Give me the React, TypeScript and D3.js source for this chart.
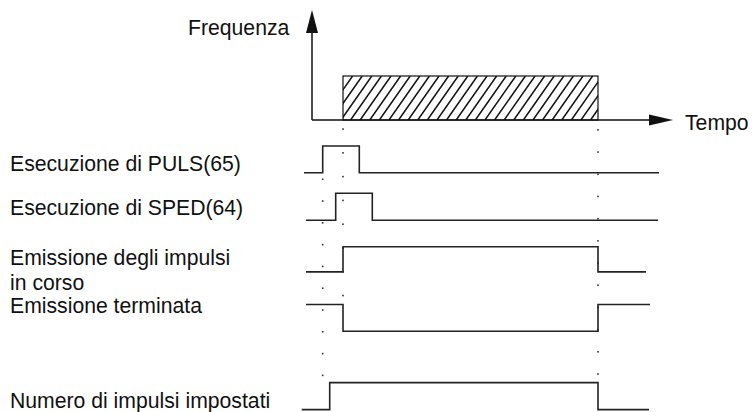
import React from "react";
import * as d3 from "d3";

// ---- data ----
const timeMarks = { origin: 0, emitStart: 3.1, emitEnd: 28.6, axisEnd: 36.1 };
const hatchHeight = 0.4; // relative frequency of the hatched block
const axisLabels = { y: "Frequenza", x: "Tempo" };

const rowLabels = [
  ["Esecuzione di PULS(65)"],
  ["Esecuzione di SPED(64)"],
  ["Emissione degli impulsi", "in corso"],
  ["Emissione terminata"],
  ["Numero di impulsi impostati"],
];
// lane position (low level) and amplitude, in lane units
const rowLane = [6.4, 8.16, 10.07, 12.27, 15.17];
const rowAmp = [0.99, 1.0, 0.93, 0.99, 1.0];
const rowLabelOffset = [0.06, 0.2, 0.26, 0.68, 0.05]; // label baseline above low level (lane units) (first line)

const pulsWave: [number, number][] = [[-0.8, 0], [1.07, 1], [4.73, 0], [34.7, 0]];
const spedWave: [number, number][] = [[-0.6, 0], [2.37, 1], [6.03, 0], [34.6, 0]];
const inCorsoWave: [number, number][] = [[-0.6, 0], [3.1, 1], [28.6, 0], [33.4, 0]];
const terminataWave: [number, number][] = [[-0.6, 1], [3.1, 0], [28.6, 1], [33.8, 1]];
const numeroWave: [number, number][] = [[-1.03, 0], [1.77, 1], [28.6, 0], [33.7, 0]];
const waves = [pulsWave, spedWave, inCorsoWave, terminataWave, numeroWave];

// dotted guide lines: time, start lane, end lane, spacing (lane units)
const guideT = [1.07, 3.1, 28.6];
const guideFrom = [6.64, 4.78, 4.81];
const guideTo = [13.9, 10.95, 13.86];
const guideStep = [0.807, 0.881, 0.822];

export default function App() {
  const W = 752, H = 412;
  const x = d3.scaleLinear().domain([0, 36]).range([312, 672]);
  const yFreq = d3.scaleLinear().domain([0, 1]).range([120, 10]);
  const yLane = d3.scaleLinear().domain([0, 15]).range([0, 405]);

  const font = "'Liberation Sans', Arial, Helvetica, sans-serif";
  const fs = 21.2;
  const ink = "#111";

  const rx0 = x(timeMarks.emitStart), rx1 = x(timeMarks.emitEnd);
  const ry0 = yFreq(hatchHeight), ry1 = yFreq(0);
  const hh = ry1 - ry0;
  const dx = hh / Math.tan((55 * Math.PI) / 180);
  const hatchX = d3.range(rx0 - dx, rx1 + 1, 9.6);

  return (
    <svg width={W} height={H} style={{ position: "absolute", left: 0, top: 0, background: "#fff" }}>
      <defs>
        <clipPath id="hclip">
          <rect x={rx0} y={ry0} width={rx1 - rx0} height={hh} />
        </clipPath>
      </defs>
      {/* hatched block */}
      <g clipPath="url(#hclip)">
        {hatchX.map((hx, i) => (
          <line key={i} x1={hx} y1={ry1} x2={hx + dx} y2={ry0} stroke={ink} strokeWidth={1.5} />
        ))}
      </g>
      <rect x={rx0} y={ry0} width={rx1 - rx0} height={hh} fill="none" stroke={ink} strokeWidth={1.2} />

      {/* axes */}
      <line x1={x(0)} y1={yFreq(0)} x2={x(0)} y2={yFreq(0.82)} stroke={ink} strokeWidth={1.5} />
      <path d={`M${x(0)},${yFreq(1)} L${x(0) - 6},${yFreq(0.79)} L${x(0) + 6},${yFreq(0.79)} Z`} fill={ink} />
      <line x1={x(0)} y1={yFreq(0)} x2={x(timeMarks.axisEnd) - 20} y2={yFreq(0)} stroke={ink} strokeWidth={1.5} />
      <path
        d={`M${x(timeMarks.axisEnd)},${yFreq(0)} L${x(timeMarks.axisEnd) - 24},${yFreq(0) - 5.5} L${x(timeMarks.axisEnd) - 24},${yFreq(0) + 5.5} Z`}
        fill={ink}
      />
      <text x={188} y={35} fontFamily={font} fontSize={fs} fill={ink}>{axisLabels.y}</text>
      <text x={685} y={130} fontFamily={font} fontSize={fs} fill={ink}>{axisLabels.x}</text>

      {/* dotted guides */}
      {guideT.map((t, gi) =>
        d3.range(guideFrom[gi], guideTo[gi] + 0.01, guideStep[gi]).map((l, k) => (
          <rect key={`${gi}-${k}`} x={x(t) - 0.8} y={yLane(l) - 0.8} width={1.6} height={1.6} fill="#333" />
        ))
      )}

      {/* waveforms */}
      {waves.map((wv, i) => {
        const line = d3
          .line<[number, number]>()
          .x((d) => x(d[0]))
          .y((d) => yLane(rowLane[i] - d[1] * rowAmp[i]))
          .curve(d3.curveStepAfter);
        return <path key={i} d={line(wv) || ""} fill="none" stroke="#222" strokeWidth={1.6} />;
      })}

      {/* labels */}
      {rowLabels.map((lines, i) =>
        lines.map((s, j) => (
          <text
            key={`${i}-${j}`}
            x={10}
            y={yLane(rowLane[i] - rowLabelOffset[i]) + j * 25}
            fontFamily={font}
            fontSize={fs}
            fill={ink}
          >
            {s}
          </text>
        ))
      )}
    </svg>
  );
}
